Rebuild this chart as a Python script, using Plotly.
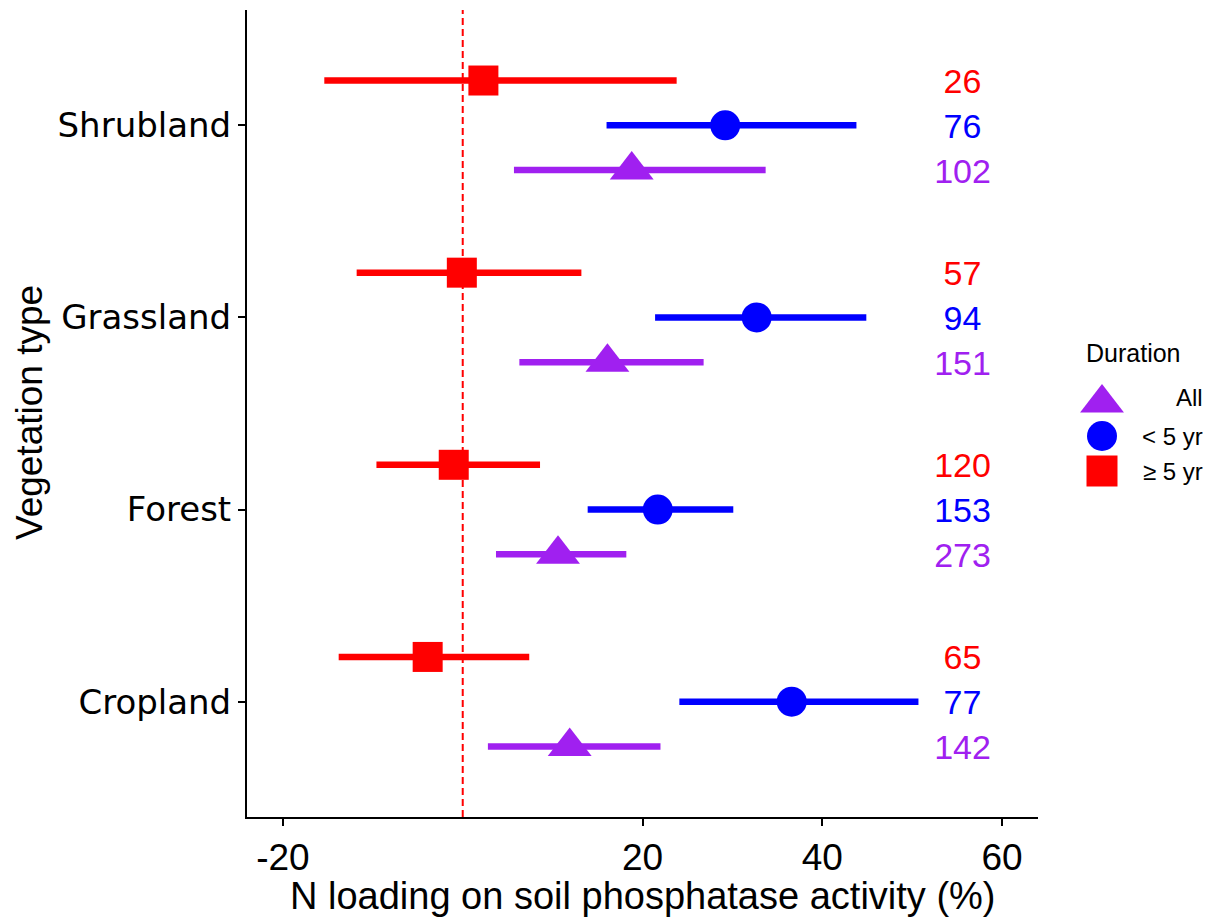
import plotly.graph_objects as go

categories = ["Cropland", "Forest", "Grassland", "Shrubland"]
cat_pos = [1, 2, 3, 4]
groups = ["All", "< 5 yr", "≥ 5 yr"]
colors = {"All": "#A020F0", "< 5 yr": "#0000FF", "≥ 5 yr": "#FF0000"}
symbols = {"All": "triangle-up", "< 5 yr": "circle", "≥ 5 yr": "square"}
offsets = {"All": -0.233, "< 5 yr": 0.0, "≥ 5 yr": 0.233}
msize = {"All": 38, "< 5 yr": 30, "≥ 5 yr": 30}

# per group: Cropland, Forest, Grassland, Shrubland
mean = {
    "All":    [11.9, 10.6, 16.1, 18.8],
    "< 5 yr": [36.6, 21.7, 32.7, 29.2],
    "≥ 5 yr": [-3.9, -1.0, -0.1, 2.3],
}
lower = {
    "All":    [2.8, 3.7, 6.3, 5.7],
    "< 5 yr": [24.1, 13.9, 21.4, 16.0],
    "≥ 5 yr": [-13.8, -9.6, -11.8, -15.4],
}
upper = {
    "All":    [22.0, 18.2, 26.8, 33.7],
    "< 5 yr": [50.7, 30.1, 44.9, 43.8],
    "≥ 5 yr": [7.4, 8.6, 13.2, 23.8],
}
counts = {
    "All":    [142, 273, 151, 102],
    "< 5 yr": [77, 153, 94, 76],
    "≥ 5 yr": [65, 120, 57, 26],
}
label_x = 55.6
x_ticks = [-20, 20, 40, 60]

# page geometry (the page body is offset by 8 px)
W, H, OFF = 1204, 911, 8
plot_left, plot_right, plot_top, plot_bottom = 247, 1038, 10, 817  # screen px
text_nudge = -0.021  # small vertical nudge so count labels centre on their rows

FONT = "Liberation Sans, Arial, sans-serif"

fig = go.Figure()
for g in groups:
    ys = [p + offsets[g] for p in cat_pos]
    fig.add_trace(go.Scatter(
        x=mean[g], y=ys, mode="markers", name=g, showlegend=False,
        marker=dict(color=colors[g], symbol=symbols[g], size=msize[g], line=dict(width=0)),
        error_x=dict(type="data", symmetric=False,
                     array=[u - m for u, m in zip(upper[g], mean[g])],
                     arrayminus=[m - l for m, l in zip(mean[g], lower[g])],
                     color=colors[g], thickness=6.5, width=0),
        cliponaxis=False,
    ))
for g in groups:
    ys = [p + offsets[g] + text_nudge for p in cat_pos]
    fig.add_trace(go.Scatter(
        x=[label_x] * len(ys), y=ys, mode="text", text=[str(c) for c in counts[g]],
        textfont=dict(color=colors[g], size=34, family=FONT),
        showlegend=False, hoverinfo="skip", cliponaxis=False))

# custom legend drawn on an overlay axis measured in screen pixels
leg_marker_x = 1102
leg_text_x = 1205
leg_rows_y = {"All": 397, "< 5 yr": 436, "≥ 5 yr": 471}
leg_msize = {"All": 38, "< 5 yr": 30, "≥ 5 yr": 31}
for g in groups:
    fig.add_trace(go.Scatter(
        x=[leg_marker_x], y=[leg_rows_y[g] + (6 if g == "All" else 0)], xaxis="x2", yaxis="y2",
        mode="markers", marker=dict(color=colors[g], symbol=symbols[g], size=leg_msize[g], line=dict(width=0)),
        showlegend=False, hoverinfo="skip", cliponaxis=False))
    fig.add_annotation(text=g, xref="x2", yref="y2", x=leg_text_x, y=leg_rows_y[g],
                       xanchor="right", yanchor="middle", showarrow=False,
                       font=dict(size=24, color="black", family=FONT))
fig.add_annotation(text="Duration", xref="x2", yref="y2", x=1084, y=353,
                   xanchor="left", yanchor="middle", showarrow=False,
                   font=dict(size=25, color="black", family=FONT))

fig.add_shape(type="line", x0=0, x1=0, y0=0, y1=1, xref="x", yref="y domain",
              line=dict(color="#FF0000", width=2, dash="7px,4px"))

fig.update_layout(
    width=W, height=H,
    margin=dict(l=0, r=0, t=0, b=0, pad=0, autoexpand=False),
    plot_bgcolor="rgba(0,0,0,0)", paper_bgcolor="white",
    showlegend=False,
    xaxis=dict(domain=[(plot_left - OFF) / W, (plot_right - OFF) / W],
               range=[-24, 64], tickvals=x_ticks, ticktext=[str(t) for t in x_ticks],
               showgrid=False, zeroline=False, showline=True, linecolor="black", linewidth=2,
               ticks="outside", ticklen=7, tickwidth=1.5, tickcolor="black", automargin=False,
               tickfont=dict(size=37, color="black", family=FONT), anchor="y"),
    yaxis=dict(domain=[1 - (plot_bottom - OFF) / H, 1 - (plot_top - OFF) / H],
               range=[0.4, 4.6], tickvals=cat_pos, ticktext=categories,
               showgrid=False, zeroline=False, showline=True, linecolor="black", linewidth=2,
               ticks="outside", ticklen=7, tickwidth=1.5, tickcolor="black", automargin=False,
               tickfont=dict(size=34, color="black", family="DejaVu Sans, Verdana, sans-serif"), anchor="x"),
    xaxis2=dict(domain=[0, 1], range=[OFF, W + OFF], visible=False, anchor="y2", fixedrange=True),
    yaxis2=dict(domain=[0, 1], range=[H + OFF, OFF], visible=False, anchor="x2", fixedrange=True),
)
fig.add_annotation(text="N loading on soil phosphatase activity (%)", xref="x2", yref="y2",
                   x=(plot_left + plot_right) / 2, y=896, xanchor="center", yanchor="middle", showarrow=False,
                   font=dict(size=38, color="black", family=FONT))
fig.add_annotation(text="Vegetation type", xref="x2", yref="y2",
                   x=29, y=413, xanchor="center", yanchor="middle", showarrow=False, textangle=-90,
                   font=dict(size=37, color="black", family=FONT))
fig.write_html("out.html")
